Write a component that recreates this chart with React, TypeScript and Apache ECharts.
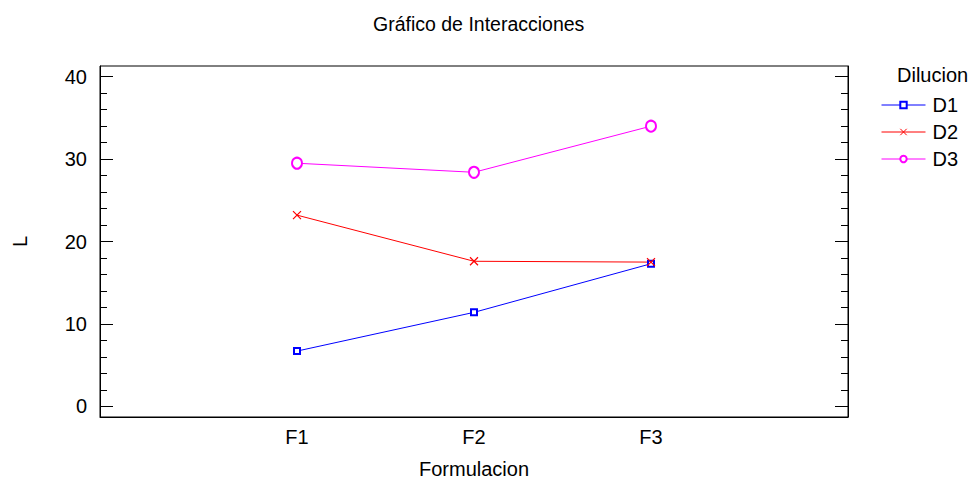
import React, { useEffect, useRef } from "react";
import * as echarts from "echarts";

const formulaciones = ["F1", "F2", "F3"];
const xPositions = [1, 2, 3];
const d1Values = [6.7, 11.4, 17.3];
const d2Values = [23.2, 17.6, 17.5];
const d3Values = [29.5, 28.4, 34.0];
const majorTicks = [0, 10, 20, 30, 40];
const minorTicks = [2, 4, 6, 8, 12, 14, 16, 18, 22, 24, 26, 28, 32, 34, 36, 38];

const FONT = "'Liberation Sans', Arial, sans-serif";

export default function App() {
  const ref = useRef<HTMLDivElement>(null);
  useEffect(() => {
    if (!ref.current) return;
    const chart = echarts.init(ref.current, undefined, { renderer: "svg" });
    const pair = (vals: number[]) => vals.map((v, i) => [xPositions[i], v]);
    const yBase = {
      type: "value" as const,
      min: -1.3,
      max: 41.3,
      splitLine: { show: false },
    };
    chart.setOption({
      animation: false,
      backgroundColor: "#fff",
      title: {
        text: "Gráfico de Interacciones",
        left: 368,
        top: 9,
        textStyle: { fontFamily: FONT, fontSize: 19.5, fontWeight: "normal", color: "#000" },
      },
      grid: {
        left: 100,
        right: 124,
        top: 66,
        bottom: 67,
        show: true,
        borderColor: "#000",
        borderWidth: 1,
        backgroundColor: "transparent",
      },
      legend: {
        orient: "vertical",
        left: 876,
        top: 90,
        itemWidth: 44,
        itemHeight: 8,
        itemGap: 7,
        itemStyle: { borderWidth: 1 },
        lineStyle: { width: 1 },
        textStyle: { fontFamily: FONT, fontSize: 20, color: "#000", padding: [0, 0, 0, 2] },
        data: ["D1", "D2", "D3"],
      },
      graphic: [
        {
          type: "text",
          left: 897,
          top: 65,
          style: { text: "Dilucion", fontFamily: FONT, fontSize: 20, fill: "#000" },
        },
      ],
      xAxis: {
        type: "value",
        min: -0.113,
        max: 4.113,
        splitLine: { show: false },
        axisLine: { show: true, onZero: false, lineStyle: { color: "#000", width: 1 } },
        axisTick: { show: false },
        axisLabel: {
          customValues: xPositions,
          formatter: (v: number) => formulaciones[Math.round(v) - 1] ?? "",
          fontFamily: FONT,
          fontSize: 20,
          color: "#000",
          margin: 10,
        },
        name: "Formulacion",
        nameLocation: "middle",
        nameGap: 42,
        nameTextStyle: { fontFamily: FONT, fontSize: 20, color: "#000" },
      },
      yAxis: [
        {
          ...yBase,
          position: "left",
          axisLine: { show: true, onZero: false, lineStyle: { color: "#000", width: 1 } },
          axisTick: { show: true, inside: true, length: 13, customValues: majorTicks, lineStyle: { color: "#000" } },
          axisLabel: { customValues: majorTicks, fontFamily: FONT, fontSize: 20, color: "#000", margin: 13 },
          name: "L",
          nameLocation: "middle",
          nameGap: 70,
          nameRotate: 90,
          nameTextStyle: { fontFamily: FONT, fontSize: 20, color: "#000" },
        },
        {
          ...yBase,
          position: "left",
          axisLine: { show: false, onZero: false },
          axisTick: { show: true, inside: true, length: 7, customValues: minorTicks, lineStyle: { color: "#000" } },
          axisLabel: { show: false },
        },
        {
          ...yBase,
          position: "right",
          axisLine: { show: true, onZero: false, lineStyle: { color: "#000", width: 1 } },
          axisTick: { show: true, inside: true, length: 13, customValues: majorTicks, lineStyle: { color: "#000" } },
          axisLabel: { show: false },
        },
        {
          ...yBase,
          position: "right",
          axisLine: { show: false, onZero: false },
          axisTick: { show: true, inside: true, length: 7, customValues: minorTicks, lineStyle: { color: "#000" } },
          axisLabel: { show: false },
        },
      ],
      series: [
        {
          name: "D1",
          type: "line",
          data: pair(d1Values),
          symbol: "emptyRect",
          symbolSize: 6,
          color: "#0000ff",
          lineStyle: { width: 1, color: "#0000ff" },
          itemStyle: { color: "#0000ff", borderColor: "#0000ff", borderWidth: 1 },
        },
        {
          name: "D2",
          type: "line",
          data: pair(d2Values),
          symbol: "path://M0,0L10,10M0,10L10,0",
          symbolSize: 8,
          color: "#ff0000",
          lineStyle: { width: 1, color: "#ff0000" },
          itemStyle: { color: "#ff0000", borderColor: "#ff0000", borderWidth: 1.2 },
        },
        {
          name: "D3",
          type: "line",
          data: pair(d3Values),
          symbol: "emptyCircle",
          symbolSize: [10, 11],
          color: "#ff00ff",
          lineStyle: { width: 1, color: "#ff00ff" },
          itemStyle: { color: "#ff00ff", borderColor: "#ff00ff", borderWidth: 1 },
        },
      ],
    });
    return () => chart.dispose();
  }, []);
  return <div ref={ref} style={{ width: 972, height: 484, position: "absolute", left: 0, top: 0 }} />;
}
